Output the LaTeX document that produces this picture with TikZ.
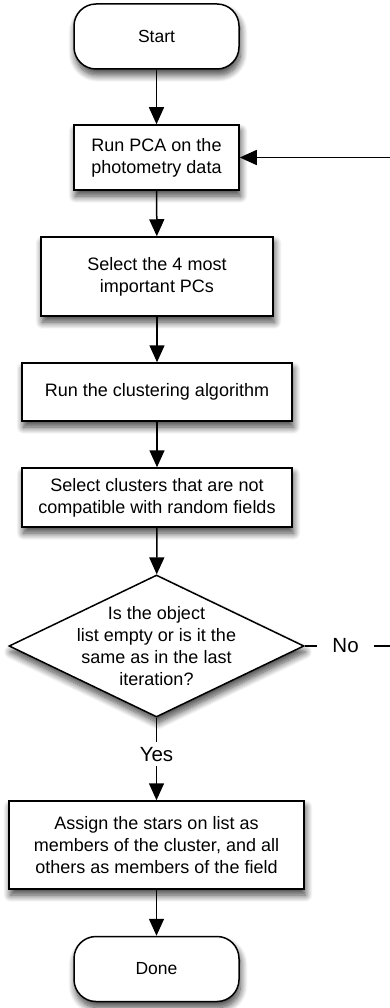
\documentclass[tikz,border=0pt]{standalone}
\usepackage{fontspec}
\setmainfont{Liberation Sans}
\usetikzlibrary{shapes.geometric,arrows.meta,shadows.blur}
\begin{document}
\begin{tikzpicture}[x=1pt,y=1pt,
  line width=1.5pt,
  shd/.style={blur shadow={shadow xshift=1.5pt,shadow yshift=-6pt,shadow blur radius=7pt,shadow opacity=75,shadow blur steps=12}},
  terminal/.style={draw,fill=white,rounded corners=22pt,minimum width=165pt,minimum height=65pt,inner sep=0pt,shd,font=\fontsize{17.5}{21}\selectfont},
  proc/.style={draw,fill=white,minimum height=65pt,inner sep=0pt,align=center,shd,font=\fontsize{18}{22}\selectfont},
  decision/.style={draw,fill=white,diamond,minimum width=295pt,minimum height=142pt,inner sep=0pt,shd},
  dectext/.style={align=center,font=\fontsize{18}{22}\selectfont},
  lbl/.style={fill=white,font=\fontsize{20.5}{24}\selectfont,inner ysep=5pt},
  arr/.style={-{Triangle[length=17pt,width=15pt]}}
]
\useasboundingbox (0,0) rectangle (390,-1008);
\node[terminal] (start) at (156.5,-36.5) {Start};
\node[proc,minimum width=165pt,minimum height=65pt] (pca) at (156.5,-157.5) {Run PCA on the\\photometry data};
\node[proc,minimum width=232pt,minimum height=79pt] (sel4) at (157,-276.5) {Select the 4 most\\important PCs};
\node[proc,minimum width=270pt,minimum height=58pt] (clus) at (157,-392) {Run the clustering algorithm};
\node[proc,minimum width=270pt,minimum height=59pt] (selc) at (157,-497.5) {Select clusters that are not\\compatible with random fields};
\node[decision] (dec) at (156.5,-646) {};
\node[dectext] (dect) at (dec.center) {Is the object\\list empty or is it the\\same as in the last\\iteration?};
\node[proc,minimum width=295pt,minimum height=88pt] (assign) at (156.5,-845) {Assign the stars on list as\\members of the cluster, and all\\others as members of the field};
\node[terminal] (done) at (156.5,-969) {Done};
\coordinate (c1) at (402,-646);
\coordinate (c2) at (402,-157.5);

\draw[arr] (start) -- (pca);
\draw[arr] (pca) -- (sel4);
\draw[arr] (sel4) -- (clus);
\draw[arr] (clus) -- (selc);
\draw[arr] (selc) -- (dec);
\draw[arr] (dec.south) -- node[lbl,pos=0.44] (yes) {Yes} (assign);
\draw[arr] (assign) -- (done);
\draw[arr] (dec.east) -- node[lbl,pos=0.42,inner xsep=15pt] (no) {No} (c1) -- (c2) -- (pca.east);
\end{tikzpicture}
\end{document}
